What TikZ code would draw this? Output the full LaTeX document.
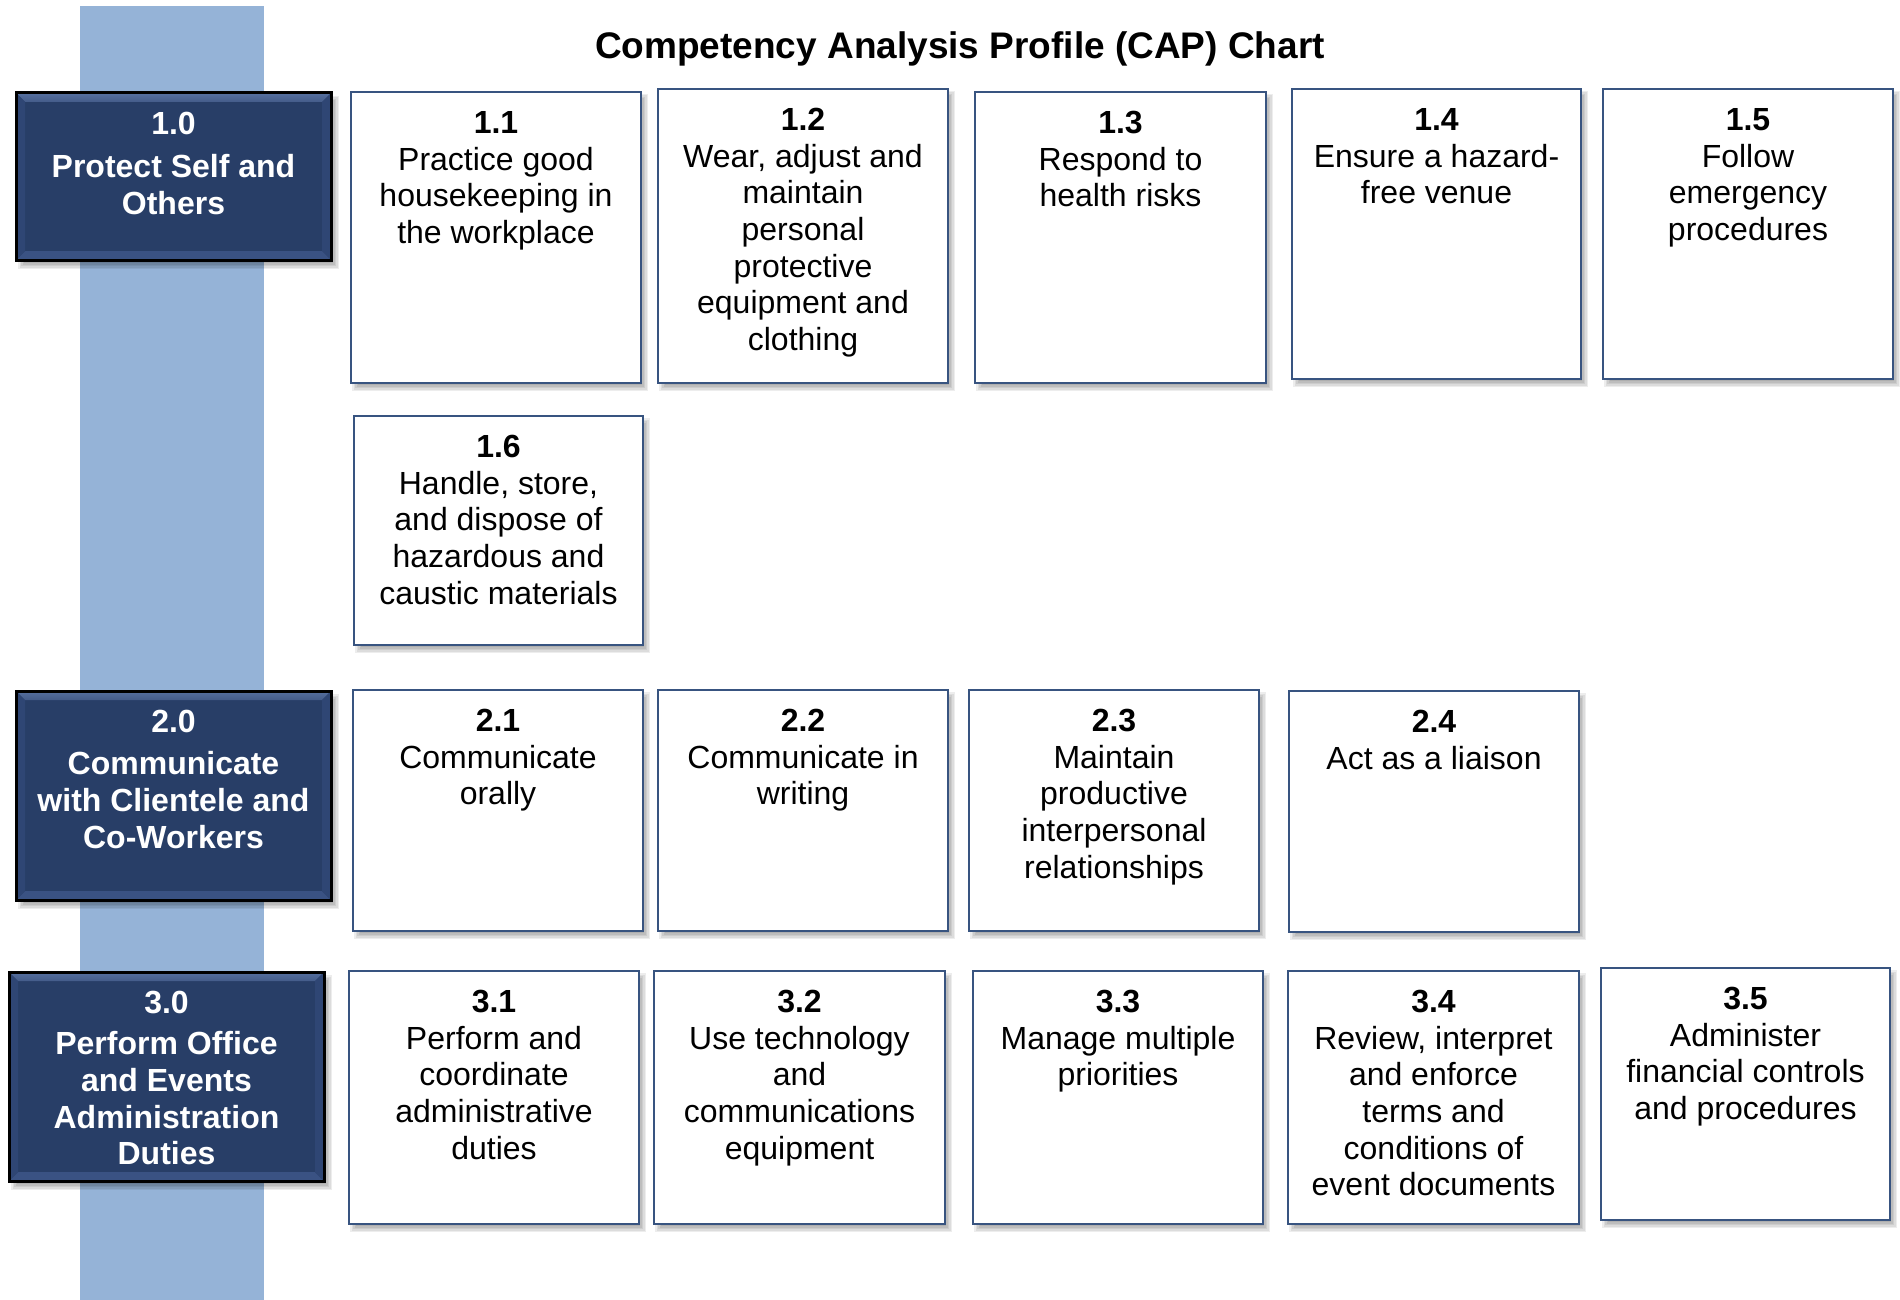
\documentclass[tikz,border=0pt]{standalone}
\usepackage{fontspec}
\setmainfont{Liberation Sans}
\usetikzlibrary{calc}

\definecolor{barblue}{HTML}{95B3D7}
\definecolor{navy}{HTML}{283E67}
\definecolor{bevtop}{HTML}{5670A0}
\definecolor{bevbot}{HTML}{3A5283}
\definecolor{bevside}{HTML}{2F4674}
\definecolor{cellline}{HTML}{385480}

\tikzset{
  taskcell/.style={draw=cellline, line width=2pt, fill=white, inner sep=0pt, outer sep=0pt},
  headcell/.style={draw=black, line width=3pt, fill=navy, inner sep=0pt, outer sep=0pt},
  tasktext/.style={font=\fontsize{32}{36.6}\selectfont, align=center, inner sep=0pt, anchor=north, text=black},
  headtext/.style={font=\fontsize{32}{36.6}\selectfont\bfseries, align=center, inner sep=0pt, anchor=north, text=white},
  titletext/.style={font=\fontsize{37}{42}\selectfont\bfseries, inner sep=0pt}
}

% soft drop shadow: x1 y1 x2 y2 dx dy
\newcommand{\softshadow}[6]{%
  \foreach \s in {-3,-1.5,0,1.5,3}{%
    \fill[black, opacity=0.07] ({#1+#5-(\s)},{#2+#6-(\s)}) rectangle ({#3+#5+(\s)},{#4+#6+(\s)});
  }%
}

% white competency cell: name x1 y1 x2 y2 text
\newcommand{\taskbox}[6]{%
  \softshadow{#2}{#3}{#4}{#5}{4}{5}
  \pgfmathsetmacro{\bw}{#4-#2}\pgfmathsetmacro{\bh}{#5-#3}
  \pgfmathsetmacro{\cx}{(#2+#4)/2}\pgfmathsetmacro{\cy}{(#3+#5)/2}
  \node[taskcell, minimum width=\bw pt, minimum height=\bh pt] (#1) at (\cx,\cy) {};
  \node[tasktext] (#1-t) at ([yshift=-11.5pt]#1.north) {#6};
}

% bevelled navy duty box: name x1 y1 x2 y2 text
\newcommand{\headbox}[6]{%
  \softshadow{#2}{#3}{#4}{#5}{5}{6}
  \pgfmathsetmacro{\bw}{#4-#2}\pgfmathsetmacro{\bh}{#5-#3}
  \pgfmathsetmacro{\cx}{(#2+#4)/2}\pgfmathsetmacro{\cy}{(#3+#5)/2}
  \node[headcell, minimum width=\bw pt, minimum height=\bh pt] (#1) at (\cx,\cy) {};
  \shade[top color=bevtop, bottom color=bevtop!60!navy]
    (#1.north west) -- (#1.north east) -- ([xshift=-9pt,yshift=-9pt]#1.north east)
    -- ([xshift=9pt,yshift=-9pt]#1.north west) -- cycle;
  \fill[bevbot]
    (#1.south west) -- (#1.south east) -- ([xshift=-9pt,yshift=9pt]#1.south east)
    -- ([xshift=9pt,yshift=9pt]#1.south west) -- cycle;
  \fill[bevside]
    (#1.north west) -- ([xshift=9pt,yshift=-9pt]#1.north west)
    -- ([xshift=9pt,yshift=9pt]#1.south west) -- (#1.south west) -- cycle;
  \fill[bevside]
    (#1.north east) -- ([xshift=-9pt,yshift=-9pt]#1.north east)
    -- ([xshift=-9pt,yshift=9pt]#1.south east) -- (#1.south east) -- cycle;
  \draw[black, line width=3pt] (#1.north west) rectangle (#1.south east);
  \node[headtext] (#1-t) at ([yshift=-11pt]#1.north) {#6};
}

\begin{document}
\begin{tikzpicture}[x=1pt, y=-1pt]
  \useasboundingbox (0,0) rectangle (1900,1300);
  \fill[white] (0,0) rectangle (1900,1300);

  % vertical band behind the duty boxes
  \fill[barblue] (80,6) rectangle (264,1300);

  \node[titletext] (title) at (960,49) {Competency Analysis Profile (CAP) Chart};

  % duty 1
  \headbox{d1}{16}{93}{331}{260}{\rule{0pt}{30pt}1.0\\[7pt]Protect Self and\\Others}
  \taskbox{t11}{351}{92}{641}{383}{\rule{0pt}{30pt}\textbf{1.1}\\Practice good\\housekeeping in\\the workplace}
  \taskbox{t12}{658}{89}{948}{383}{\rule{0pt}{30pt}\textbf{1.2}\\Wear, adjust and\\maintain\\personal\\protective\\equipment and\\clothing}
  \taskbox{t13}{975}{92}{1266}{383}{\rule{0pt}{30pt}\textbf{1.3}\\Respond to\\health risks}
  \taskbox{t14}{1292}{89}{1581}{379}{\rule{0pt}{30pt}\textbf{1.4}\\Ensure a hazard-\\free venue}
  \taskbox{t15}{1603}{89}{1893}{379}{\rule{0pt}{30pt}\textbf{1.5}\\Follow\\emergency\\procedures}
  \taskbox{t16}{354}{416}{643}{645}{\rule{0pt}{30pt}\textbf{1.6}\\Handle, store,\\and dispose of\\hazardous and\\caustic materials}

  % duty 2
  \headbox{d2}{16}{691}{331}{900}{\rule{0pt}{30pt}2.0\\[6pt]Communicate\\with Clientele and\\Co-Workers}
  \taskbox{t21}{353}{690}{643}{931}{\rule{0pt}{30pt}\textbf{2.1}\\Communicate\\orally}
  \taskbox{t22}{658}{690}{948}{931}{\rule{0pt}{30pt}\textbf{2.2}\\Communicate in\\writing}
  \taskbox{t23}{969}{690}{1259}{931}{\rule{0pt}{30pt}\textbf{2.3}\\Maintain\\productive\\interpersonal\\relationships}
  \taskbox{t24}{1289}{691}{1579}{932}{\rule{0pt}{30pt}\textbf{2.4}\\Act as a liaison}

  % duty 3
  \headbox{d3}{9}{972}{324}{1181}{\rule{0pt}{30pt}3.0\\[5pt]Perform Office\\and Events\\Administration\\Duties}
  \taskbox{t31}{349}{971}{639}{1224}{\rule{0pt}{30pt}\textbf{3.1}\\Perform and\\coordinate\\administrative\\duties}
  \taskbox{t32}{654}{971}{945}{1224}{\rule{0pt}{30pt}\textbf{3.2}\\Use technology\\and\\communications\\equipment}
  \taskbox{t33}{973}{971}{1263}{1224}{\rule{0pt}{30pt}\textbf{3.3}\\Manage multiple\\priorities}
  \taskbox{t34}{1288}{971}{1579}{1224}{\rule{0pt}{30pt}\textbf{3.4}\\Review, interpret\\and enforce\\terms and\\conditions of\\event documents}
  \taskbox{t35}{1601}{968}{1890}{1220}{\rule{0pt}{30pt}\textbf{3.5}\\Administer\\financial controls\\and procedures}
\end{tikzpicture}
\end{document}
